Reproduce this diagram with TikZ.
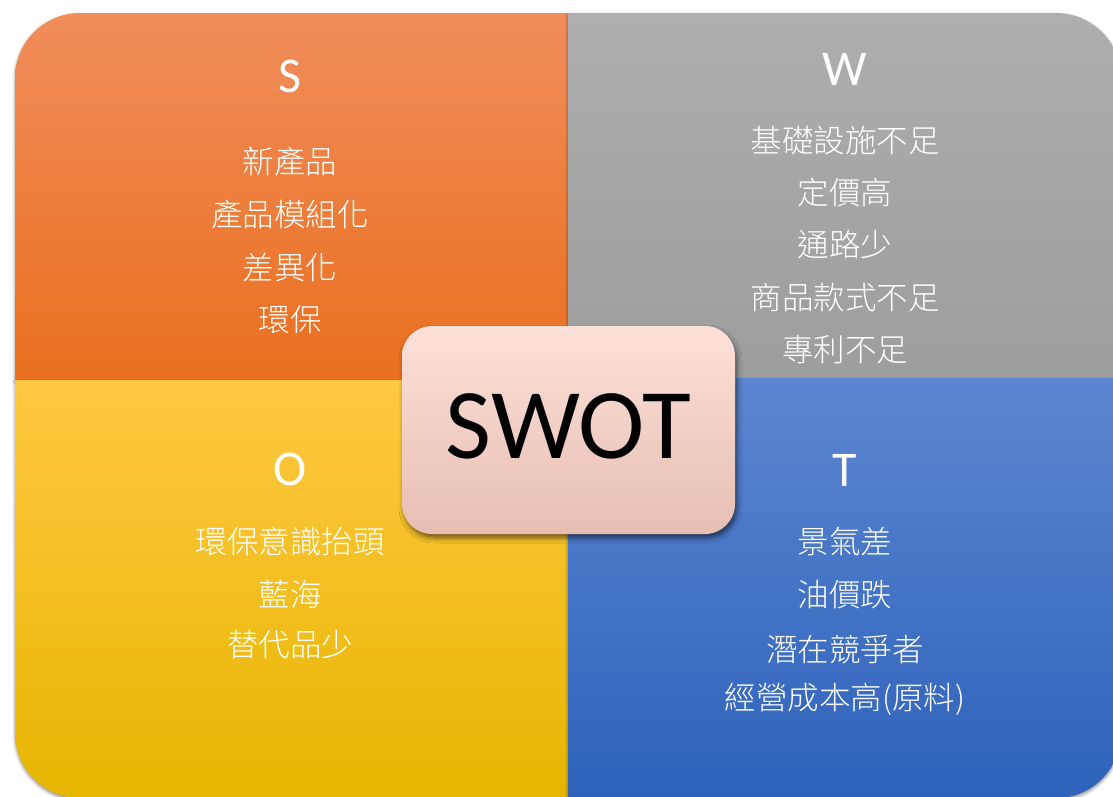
\documentclass[tikz,border=0pt]{standalone}
\usepackage{fontspec}
\newfontfamily\cjk{Noto Sans CJK TC Light}
\newfontfamily\carl{Carlito}
\usetikzlibrary{shadows.blur}
\definecolor{sTop}{RGB}{240,141,92}
\definecolor{sBot}{RGB}{234,111,30}
\definecolor{wTop}{RGB}{174,174,174}
\definecolor{wBot}{RGB}{157,157,157}
\definecolor{oTop}{RGB}{255,200,66}
\definecolor{oMid}{RGB}{255,198,0}
\definecolor{oBot}{RGB}{230,182,0}
\definecolor{tTop}{RGB}{92,134,210}
\definecolor{tBot}{RGB}{46,98,186}
\definecolor{cTop}{RGB}{251,224,217}
\definecolor{cBot}{RGB}{231,190,178}
\tikzset{
  quad/.style={blur shadow={shadow xshift=0pt, shadow yshift=-2pt, shadow blur radius=3pt, shadow opacity=45}},
  lbl/.style={text=white, font=\carl\fontsize{50}{50}\selectfont, anchor=base, inner sep=0pt},
  item/.style={text=white, font=\cjk\fontsize{31.5}{31.5}\selectfont, anchor=center, inner sep=0pt}
}
\begin{document}
\begin{tikzpicture}[x=1pt,y=-1pt]
\useasboundingbox (0,0) rectangle (1113,796);
\clip (0,0) rectangle (1113,796);
% quadrants
\path[quad, top color=sTop, bottom color=sBot]
  (15,380) -- (15,78) .. controls (15,42.1) and (44.1,13) .. (80,13) -- (568,13) -- (568,380) -- cycle;
\path[quad, top color=wTop, bottom color=wBot]
  (568,13) -- (1056,13) .. controls (1091.9,13) and (1121,42.1) .. (1121,78) -- (1121,378) -- (568,378) -- cycle;
\path[quad, top color=oTop, middle color=oMid, bottom color=oBot]
  (15,380) -- (568,380) -- (568,798) -- (80,798) .. controls (44.1,798) and (15,768.9) .. (15,733) -- cycle;
\path[quad, top color=tTop, bottom color=tBot]
  (568,378) -- (1121,378) -- (1121,733) .. controls (1121,768.9) and (1091.9,798) .. (1056,798) -- (568,798) -- cycle;
% labels
\node[lbl] (S) at (290,92) {S};
\node[lbl] (W) at (845,85) {W};
\node[lbl] (O) at (290,485) {O};
\node[lbl] (T) at (845,486) {T};
% S items
\node[item] (s1) at (290,162) {新產品};
\node[item] (s2) at (290,215) {產品模組化};
\node[item] (s3) at (290,268) {差異化};
\node[item] (s4) at (290,320) {環保};
% W items
\node[item] (w1) at (845,141) {基礎設施不足};
\node[item] (w2) at (845,193) {定價高};
\node[item] (w3) at (845,245) {通路少};
\node[item] (w4) at (845,298) {商品款式不足};
\node[item] (w5) at (845,350) {專利不足};
% O items
\node[item] (o1) at (290,541) {環保意識抬頭};
\node[item] (o2) at (290,594) {藍海};
\node[item] (o3) at (290,645) {替代品少};
% T items
\node[item] (t1) at (845,542) {景氣差};
\node[item] (t2) at (845,595) {油價跌};
\node[item] (t3) at (845,649) {潛在競爭者};
\node[item] (t4) at (845,699) {經營成本高(原料)};
% center box
\path[blur shadow={shadow xshift=2pt, shadow yshift=-4pt, shadow blur radius=5pt, shadow opacity=55},
      top color=cTop, bottom color=cBot, rounded corners=30pt]
  (402,326) rectangle (735,534);
\node[font=\carl\fontsize{100}{100}\selectfont, anchor=base, inner sep=0pt] (swot) at (568.5,458) {SWOT};
\end{tikzpicture}
\end{document}
